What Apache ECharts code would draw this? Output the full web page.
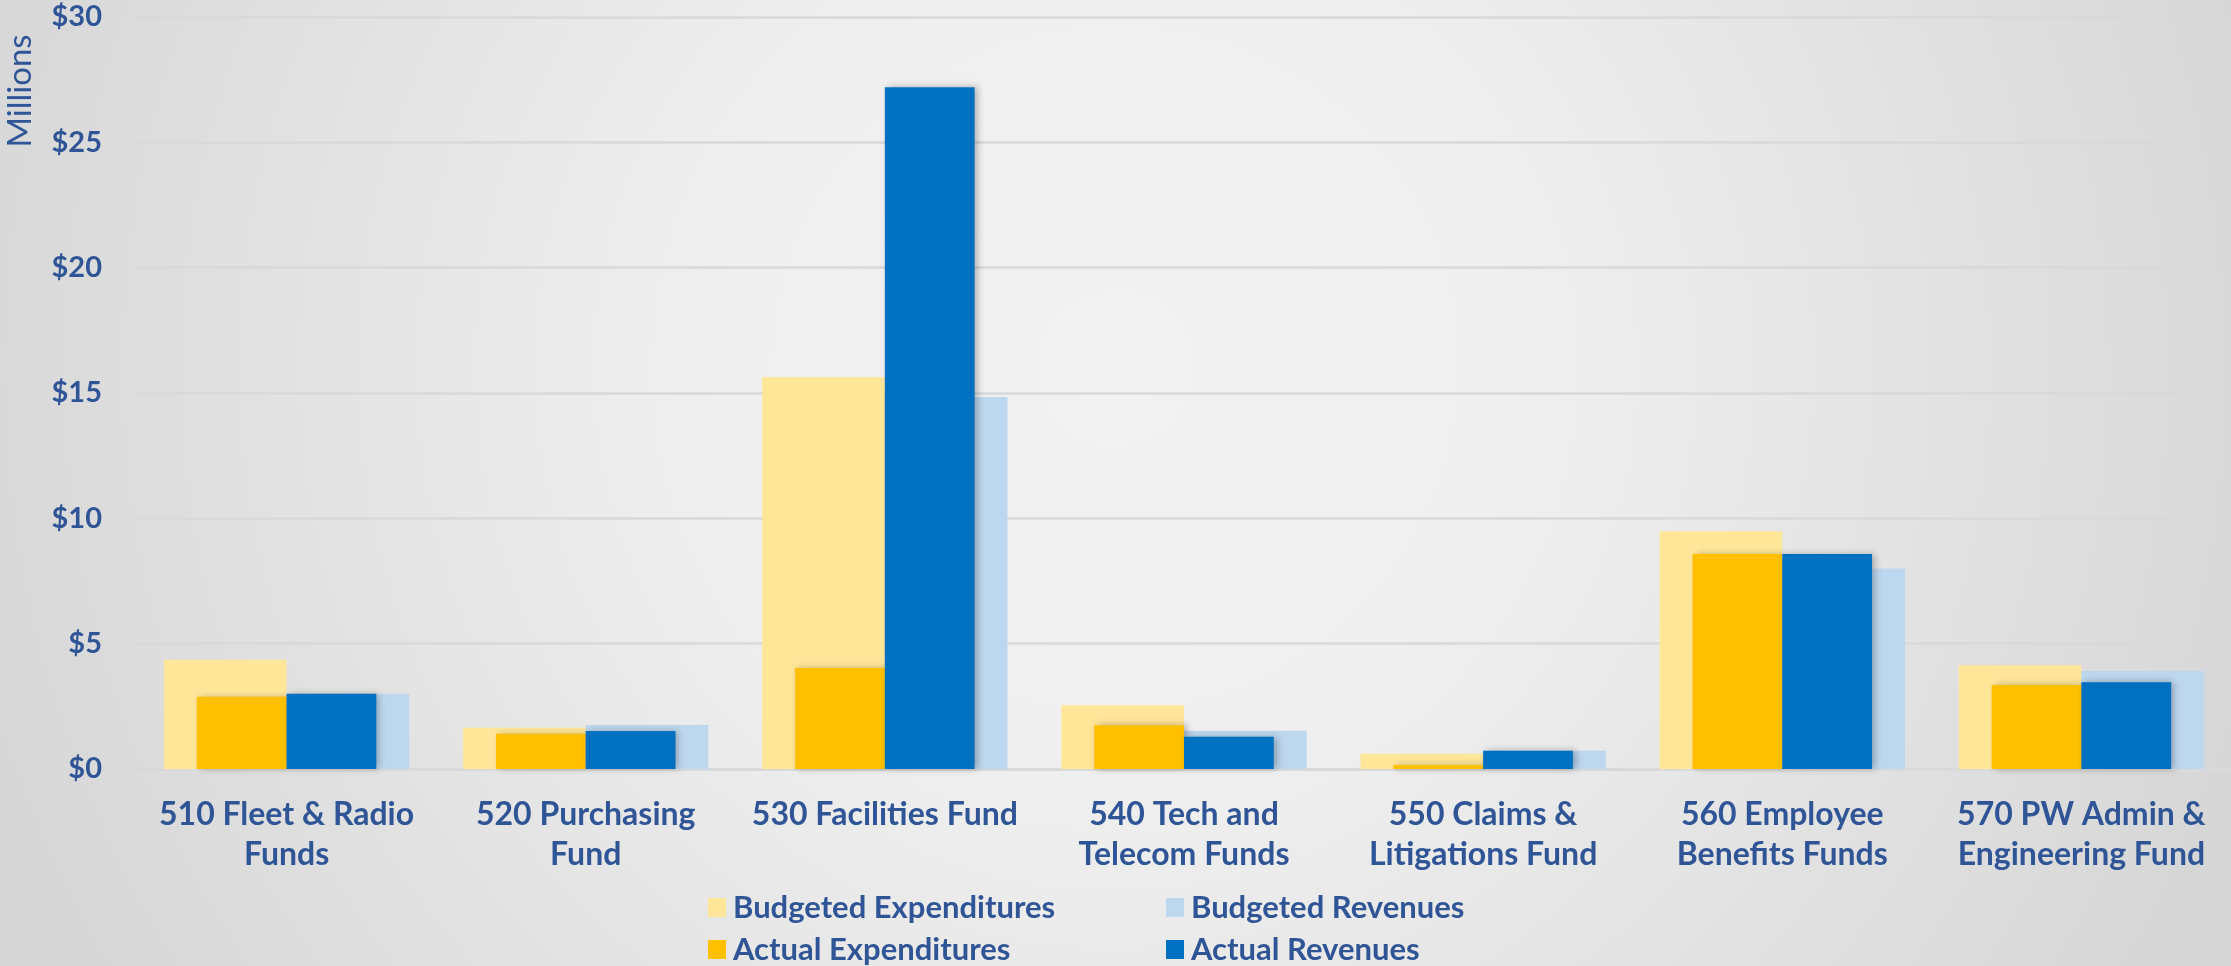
<!DOCTYPE html>
<html>
<head>
<meta charset="utf-8">
<title>Internal Service Funds</title>
<script src="https://cdn.jsdelivr.net/npm/echarts@6/dist/echarts.min.js"></script>
<style>
  html, body { margin: 0; padding: 0; }
  #chart { width: 2231px; height: 966px; }
</style>
</head>
<body>
<div id="chart"></div>
<script>
var funds = [
    '510 Fleet & Radio\nFunds',
    '520 Purchasing\nFund',
    '530 Facilities Fund',
    '540 Tech and\nTelecom Funds',
    '550 Claims &\nLitigations Fund',
    '560 Employee\nBenefits Funds',
    '570 PW Admin &\nEngineering Fund'
];

// values in millions of dollars
var budgetedExpenditures = [4.36, 1.65, 15.64, 2.54, 0.61, 9.48, 4.14];
var budgetedRevenues = [3.00, 1.76, 14.84, 1.53, 0.73, 8.00, 3.91];
var actualExpenditures = [2.88, 1.41, 4.03, 1.75, 0.16, 8.58, 3.35];
var actualRevenues = [3.00, 1.52, 27.20, 1.29, 0.73, 8.58, 3.46];

var textBlue = '#2F5597';
var font = 'Lato, "Open Sans", sans-serif';

var chart = echarts.init(document.getElementById('chart'));

var actualShadow = {
    shadowColor: 'rgba(0,0,0,0.28)',
    shadowBlur: 7,
    shadowOffsetX: 3
};

function legendAt(left, names) {
    return {
        orient: 'vertical',
        left: left,
        top: 892,
        height: 90,
        padding: 0,
        itemWidth: 18,
        itemHeight: 19,
        itemGap: 11,
        icon: 'rect',
        data: names,
        textStyle: { color: textBlue, fontSize: 31, fontWeight: 'bold', lineHeight: 30, padding: [0, 0, 0, 2] }
    };
}

chart.setOption({
    backgroundColor: {
        type: 'radial', x: 0.5, y: 0.38, r: 1.25,
        colorStops: [
            { offset: 0, color: '#F2F2F2' },
            { offset: 0.35, color: '#EFEFEF' },
            { offset: 1, color: '#D6D6D6' }
        ]
    },
    textStyle: { fontFamily: font },
    animation: false,
    graphic: [{
        type: 'text',
        x: 20,
        y: 91,
        rotation: Math.PI / 2,
        style: {
            text: 'Millions',
            fill: textBlue,
            font: '33px ' + font,
            align: 'center',
            verticalAlign: 'middle'
        }
    }],
    legend: [
        legendAt(708, ['Budgeted Expenditures', 'Actual Expenditures']),
        legendAt(1166, ['Budgeted Revenues', 'Actual Revenues'])
    ],
    grid: { left: 137, right: 0, top: 17, bottom: 197, containLabel: false },
    xAxis: [{
        type: 'category',
        data: funds,
        axisLine: { lineStyle: { color: '#D9D9D9', width: 3 } },
        axisTick: { show: false },
        axisLabel: {
            color: textBlue, fontSize: 32, fontWeight: 'bold',
            lineHeight: 40, margin: 26, interval: 0
        }
    }, {
        type: 'category',
        data: funds,
        show: false
    }],
    yAxis: {
        type: 'value',
        min: 0,
        max: 30,
        interval: 5,
        axisLine: { show: false },
        axisTick: { show: false },
        splitLine: { lineStyle: { color: '#D9D9D9', width: 2.5 } },
        axisLabel: {
            color: textBlue, fontSize: 29, fontWeight: 'bold', margin: 35,
            formatter: function (v) { return '$' + v; }
        }
    },
    series: [{
        name: 'Budgeted Expenditures',
        type: 'bar',
        xAxisIndex: 0,
        data: budgetedExpenditures,
        barWidth: '41%',
        barGap: '0%',
        itemStyle: { color: '#FFE699' }
    }, {
        name: 'Budgeted Revenues',
        type: 'bar',
        xAxisIndex: 0,
        data: budgetedRevenues,
        barWidth: '41%',
        barGap: '0%',
        itemStyle: { color: '#BDD7EE' }
    }, {
        name: 'Actual Expenditures',
        type: 'bar',
        xAxisIndex: 1,
        data: actualExpenditures,
        barWidth: '30%',
        barGap: '0%',
        itemStyle: Object.assign({ color: '#FFC000' }, actualShadow)
    }, {
        name: 'Actual Revenues',
        type: 'bar',
        xAxisIndex: 1,
        data: actualRevenues,
        barWidth: '30%',
        barGap: '0%',
        itemStyle: Object.assign({ color: '#0070C0' }, actualShadow)
    }]
});
</script>
</body>
</html>
